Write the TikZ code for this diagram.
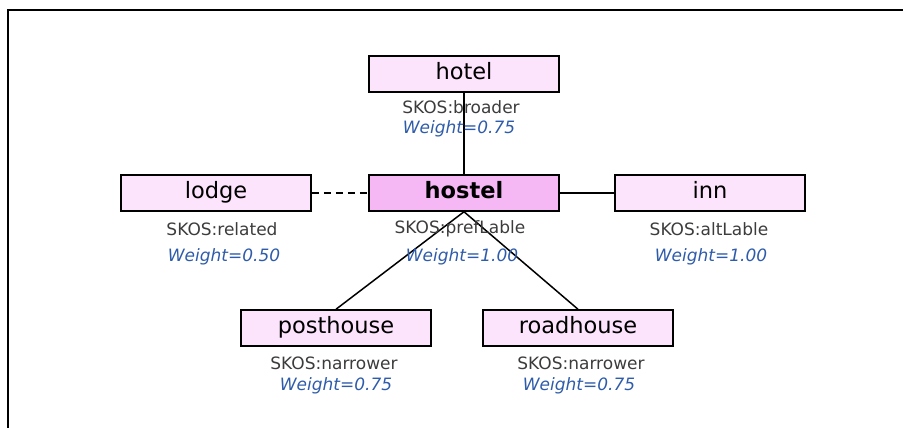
\documentclass[tikz,border=0pt]{standalone}
\usepackage{fontspec}
\setmainfont{DejaVu Sans}
\usetikzlibrary{positioning}
\definecolor{termfill}{RGB}{252,228,252}
\definecolor{mainfill}{RGB}{245,184,245}
\definecolor{wgtblue}{RGB}{47,92,170}
\definecolor{relgrey}{RGB}{60,60,60}

\begin{document}
\begin{tikzpicture}[x=1pt,y=-1pt,
    term/.style={draw=black, line width=1.5pt, fill=termfill, minimum width=190pt,
        minimum height=36pt, inner sep=0pt, text height=15pt, text depth=4pt,
        font=\fontsize{22.5}{25}\selectfont},
    mainterm/.style={term, fill=mainfill, font=\fontsize{22.5}{25}\selectfont\bfseries},
    rel/.style={text=relgrey, inner sep=0pt, font=\fontsize{17}{19}\selectfont},
    wgt/.style={text=wgtblue, inner sep=0pt, font=\fontsize{17}{19}\selectfont\itshape},
    link/.style={line width=1.5pt}]
    \useasboundingbox (0,0) rectangle (903,428);
    % frame (right and bottom edges lie outside the picture)
    \draw[line width=1.3pt] (8,428) -- (8,10) -- (903,10);

    % terms
    \node[term] (hotel) at (464,74) {hotel};
    \node[mainterm] (hostel) at (464,193) {hostel};
    \node[term] (lodge) at (216,193) {lodge};
    \node[term] (inn) at (710,193) {inn};
    \node[term] (posthouse) at (336,328) {posthouse};
    \node[term] (roadhouse) at (578,328) {roadhouse};

    % relations between terms
    \draw[link] (hotel.south) -- (hostel.north);
    \draw[link, dash pattern=on 7pt off 5pt] (lodge.east) -- (hostel.west);
    \draw[line width=2pt] (hostel.east) -- (inn.west);
    \draw[link] (hostel.south) -- (posthouse.north);
    \draw[link] (hostel.south) -- (roadhouse.north);

    % SKOS labels and weights
    \node[rel] (hotelrel) at (461,107) {SKOS:broader};
    \node[wgt] (hotelwgt) at (459,129) {Weight=0.75};
    \node[rel] (lodgerel) at (222,229) {SKOS:related};
    \node[wgt] (lodgewgt) at (224,257) {Weight=0.50};
    \node[rel] (hostelrel) at (460,229) {SKOS:prefLable};
    \node[wgt] (hostelwgt) at (462,257) {Weight=1.00};
    \node[rel] (innrel) at (709,229) {SKOS:altLable};
    \node[wgt] (innwgt) at (711,257) {Weight=1.00};
    \node[rel] (postrel) at (334,363) {SKOS:narrower};
    \node[wgt] (postwgt) at (336,386) {Weight=0.75};
    \node[rel] (roadrel) at (581,363) {SKOS:narrower};
    \node[wgt] (roadwgt) at (579,386) {Weight=0.75};
\end{tikzpicture}
\end{document}
